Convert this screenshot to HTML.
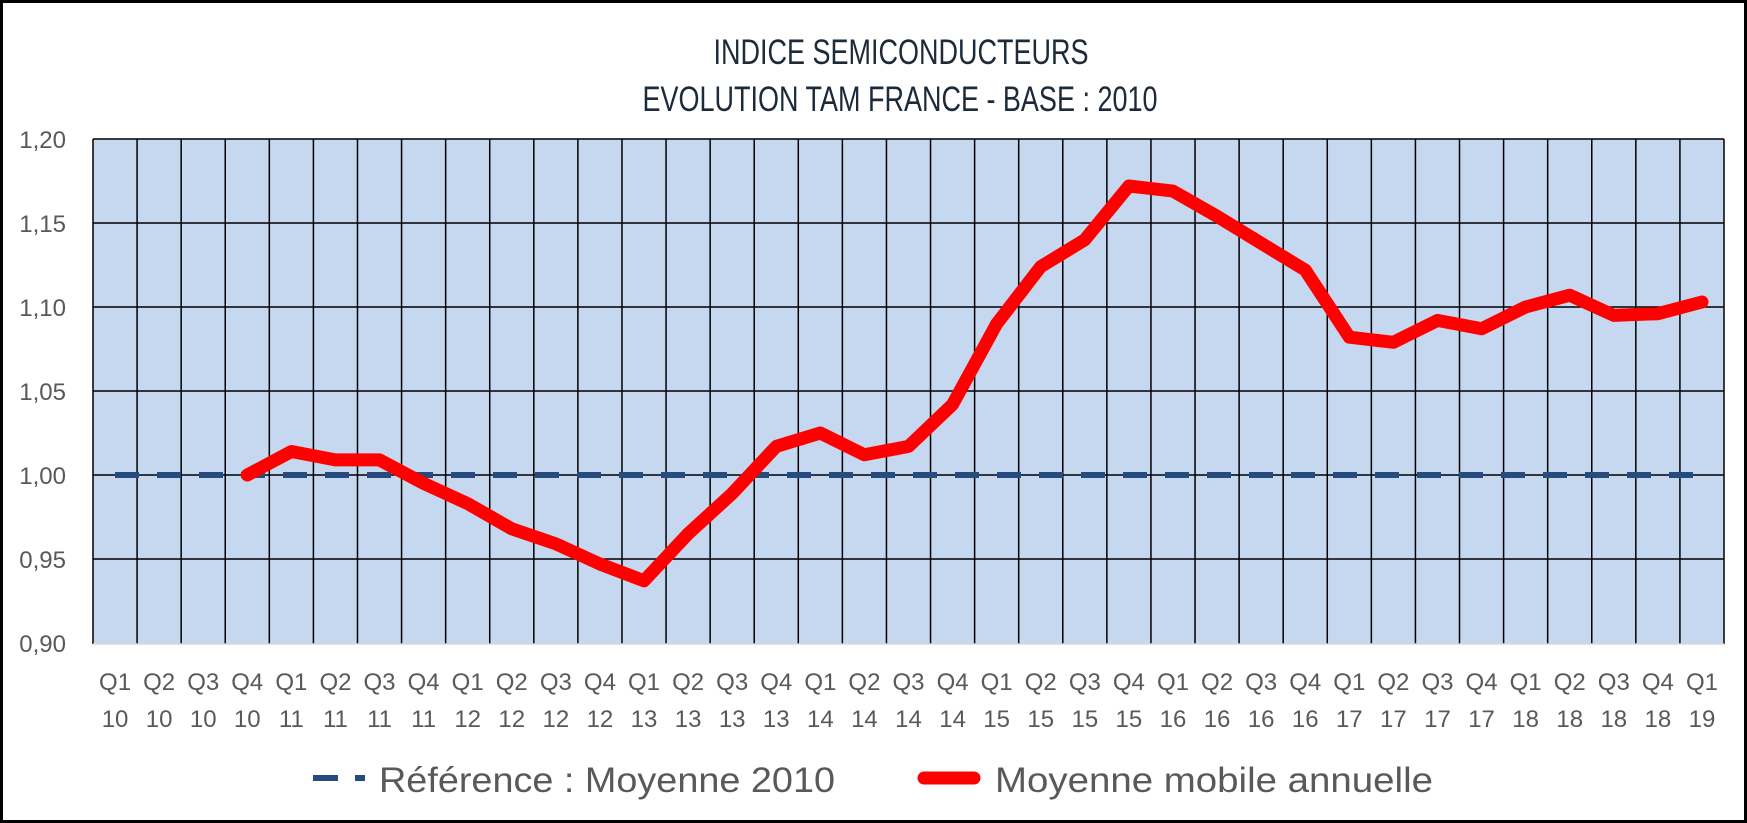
<!DOCTYPE html>
<html><head><meta charset="utf-8"><style>
html,body{margin:0;padding:0;background:#fff}
svg{display:block}
</style></head><body>
<svg width="1747" height="823" viewBox="0 0 1747 823" xmlns="http://www.w3.org/2000/svg">
<rect x="1.5" y="1.5" width="1744" height="820" fill="#fff" stroke="#000" stroke-width="3"/>
<text x="901" y="64" text-anchor="middle" font-family="Liberation Sans, sans-serif" font-size="35" fill="#1c2a3a" textLength="375" lengthAdjust="spacingAndGlyphs">INDICE SEMICONDUCTEURS</text>
<text x="900" y="111" text-anchor="middle" font-family="Liberation Sans, sans-serif" font-size="35" fill="#1c2a3a" textLength="515" lengthAdjust="spacingAndGlyphs">EVOLUTION TAM FRANCE - BASE : 2010</text>
<rect x="93" y="139" width="1631" height="505" fill="#c6d8ef"/>
<g id="grid" stroke="#000" stroke-width="1.5"></g>
<g id="ylab" font-family="Liberation Sans, sans-serif" font-size="24" fill="#595959" text-anchor="end"></g>
<g id="xlab" font-family="Liberation Sans, sans-serif" font-size="24" fill="#595959" text-anchor="middle"></g>
<line x1="115" y1="475" x2="1705" y2="475" stroke="#264c7e" stroke-width="6" stroke-dasharray="24 18"/>
<polyline id="red" fill="none" stroke="#ff0000" stroke-width="13" stroke-linejoin="round" stroke-linecap="round"/>
<line x1="313" y1="778" x2="338" y2="778" stroke="#264c7e" stroke-width="6"/>
<line x1="355" y1="778" x2="365" y2="778" stroke="#264c7e" stroke-width="6"/>
<text x="379" y="792" font-family="Liberation Sans, sans-serif" font-size="35" fill="#595959" textLength="456" lengthAdjust="spacingAndGlyphs">Référence : Moyenne 2010</text>
<line x1="924" y1="778" x2="974" y2="778" stroke="#ff0000" stroke-width="13" stroke-linecap="round"/>
<text x="995" y="792" font-family="Liberation Sans, sans-serif" font-size="35" fill="#595959" textLength="438" lengthAdjust="spacingAndGlyphs">Moyenne mobile annuelle</text>
</svg>
<script>
(function(){
var ns="http://www.w3.org/2000/svg";
var L=93,R=1724,T=139,B=644,n=37,w=(R-L)/n;
function Y(v){return T+(1.2-v)*1680;}
var g=document.getElementById('grid');
function ln(x1,y1,x2,y2,c){var e=document.createElementNS(ns,'line');e.setAttribute('x1',x1);e.setAttribute('y1',y1);e.setAttribute('x2',x2);e.setAttribute('y2',y2);if(c)e.setAttribute('stroke',c);g.appendChild(e);}
for(var i=0;i<=n;i++){var x=L+i*w;ln(x,T,x,B);}
for(var k=0;k<6;k++){var y=T+k*84;ln(L,y,R,y);}
ln(L,B,R,B,'#d9d9d9');
var yl=document.getElementById('ylab');
var labs=["1,20","1,15","1,10","1,05","1,00","0,95","0,90"];
for(var k=0;k<7;k++){var t=document.createElementNS(ns,'text');t.setAttribute('x',66);t.setAttribute('y',T+k*84+9);t.textContent=labs[k];yl.appendChild(t);}
var xl=document.getElementById('xlab');
for(var i=0;i<n;i++){var q=(i%4)+1,yr=10+Math.floor(i/4);var cx=L+(i+0.5)*w;
var t=document.createElementNS(ns,'text');t.setAttribute('x',cx);t.setAttribute('y',690);t.textContent='Q'+q;xl.appendChild(t);
var t2=document.createElementNS(ns,'text');t2.setAttribute('x',cx);t2.setAttribute('y',727);t2.textContent=''+yr;xl.appendChild(t2);}
var d=[1.000,1.014,1.009,1.009,0.995,0.983,0.968,0.959,0.947,0.937,0.965,0.989,1.017,1.025,1.012,1.017,1.042,1.090,1.124,1.140,1.172,1.169,1.154,1.138,1.122,1.082,1.079,1.092,1.087,1.100,1.107,1.095,1.096,1.103];
var pts=[];for(var j=0;j<d.length;j++){pts.push((L+(j+3.5)*w).toFixed(1)+','+Y(d[j]).toFixed(1));}
document.getElementById('red').setAttribute('points',pts.join(' '));
})();
</script>
</body></html>
